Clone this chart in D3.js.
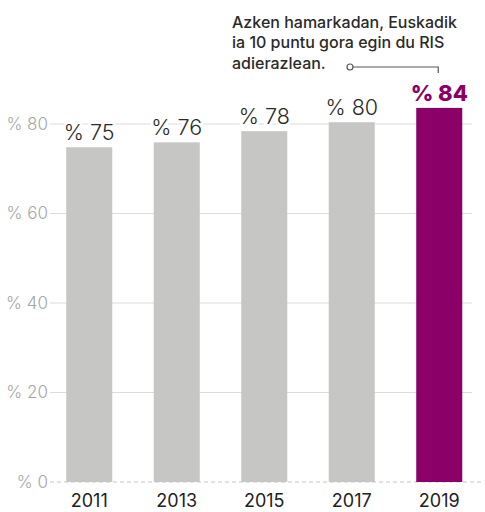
<!DOCTYPE html>
<html>
<head>
<meta charset="utf-8">
<script src="https://cdn.jsdelivr.net/npm/d3@7"></script>
<style>
  html, body { margin: 0; padding: 0; background: #fff; }
  svg { display: block; }
</style>
</head>
<body>
<svg id="chart" width="485" height="512"></svg>
<script>
const years = ["2011", "2013", "2015", "2017", "2019"];
const values = [74.8, 75.9, 78.4, 80.4, 83.6];
const valueLabels = ["% 75", "% 76", "% 78", "% 80", "% 84"];
const yTicks = [0, 20, 40, 60, 80];
const yTickLabels = ["% 0", "% 20", "% 40", "% 60", "% 80"];
const noteLines = ["Azken hamarkadan, Euskadik", "ia 10 puntu gora egin du RIS", "adierazlean."];

const svg = d3.select("#chart");
const font = "Inter, Roboto, 'Noto Sans', sans-serif";

const x = d3.scaleBand().domain(years).range([45.5, 483]).paddingInner(0.474).paddingOuter(0.237);
const y = d3.scaleLinear().domain([0, 80]).range([482, 124]);

// gridlines
const grid = svg.append("g");
grid.selectAll("line").data(yTicks).join("line")
  .attr("x1", 50).attr("x2", d => d === 0 ? 482 : 472)
  .attr("y1", d => y(d)).attr("y2", d => y(d))
  .attr("stroke", d => d === 0 ? "#c8c8c8" : "#dcdcdc")
  .attr("stroke-width", 1.2)
  .attr("stroke-dasharray", d => d === 0 ? "4,3" : null);

// y tick labels
svg.append("g").selectAll("text").data(yTicks).join("text")
  .attr("x", 48).attr("y", d => y(d))
  .attr("dy", "0.35em")
  .attr("text-anchor", "end")
  .attr("font-family", font).attr("font-size", 17).attr("font-weight", 300)
  .attr("fill", "#a6a6a6")
  .text((d, i) => yTickLabels[i]);

// bars
svg.append("g").selectAll("rect").data(years).join("rect")
  .attr("x", d => x(d)).attr("width", x.bandwidth())
  .attr("y", (d, i) => y(values[i]))
  .attr("height", (d, i) => y(0) - y(values[i]))
  .attr("fill", (d, i) => i === years.length - 1 ? "#8a0068" : "#c6c6c5");

// value labels
svg.append("g").selectAll("text").data(years).join("text")
  .attr("x", d => x(d) + x.bandwidth() / 2)
  .attr("y", (d, i) => y(values[i]) - 7)
  .attr("text-anchor", "middle")
  .attr("font-family", font)
  .attr("font-size", (d, i) => i === years.length - 1 ? 22 : 21.5)
  .attr("font-weight", (d, i) => i === years.length - 1 ? 800 : 300)
  .attr("fill", (d, i) => i === years.length - 1 ? "#8a0068" : "#2a2a2a")
  .attr("stroke", "#fff").attr("stroke-width", 6).attr("paint-order", "stroke")
  .attr("stroke-linejoin", "round")
  .text((d, i) => valueLabels[i]);

// x labels
svg.append("g").selectAll("text").data(years).join("text")
  .attr("x", d => x(d) + x.bandwidth() / 2)
  .attr("y", 507)
  .attr("text-anchor", "middle")
  .attr("font-family", font).attr("font-size", 18)
  .attr("fill", "#222")
  .text(d => d);

// annotation
svg.append("g").selectAll("text").data(noteLines).join("text")
  .attr("x", 232).attr("y", (d, i) => 27.5 + i * 20.8)
  .attr("font-family", font).attr("font-size", 16).attr("font-weight", 500)
  .attr("fill", "#2a2a2a")
  .text(d => d);

const lastX = x(years[years.length - 1]) + x.bandwidth() / 2;
svg.append("path")
  .attr("d", `M353,67 H${lastX - 1} V73`)
  .attr("fill", "none").attr("stroke", "#555").attr("stroke-width", 1.2);
svg.append("circle").attr("cx", 350).attr("cy", 67).attr("r", 3)
  .attr("fill", "#fff").attr("stroke", "#555").attr("stroke-width", 1.2);
</script>
</body>
</html>
